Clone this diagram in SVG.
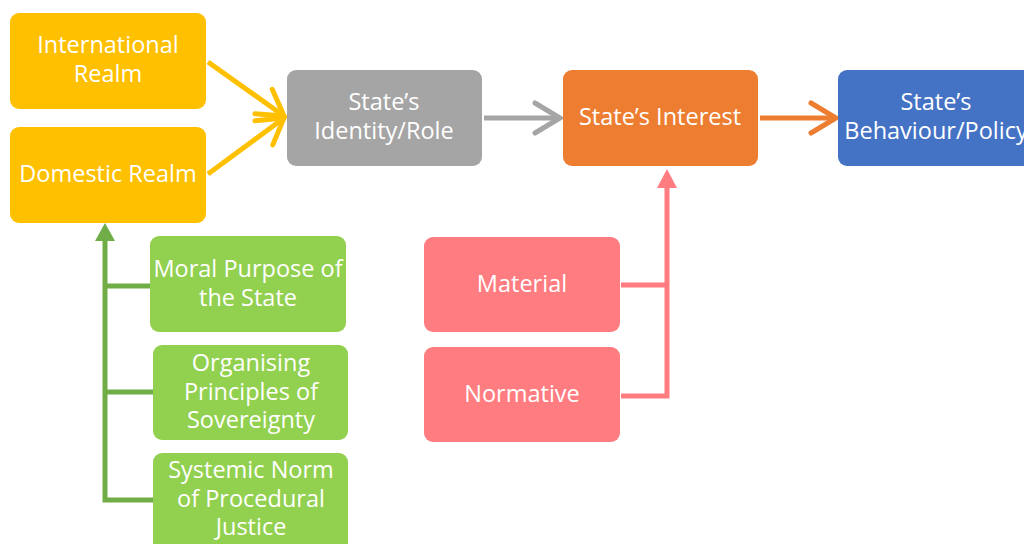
<svg xmlns="http://www.w3.org/2000/svg" width="1024" height="544" viewBox="0 0 1024 544">
  <defs>
    <style>
      .box { stroke: none; }
      .lbl { font-family: "Open Sans", Lato, sans-serif; font-size: 23.5px; fill: #ffffff; text-anchor: middle; }
      .yellow { fill: #FFC000; }
      .gray { fill: #A5A5A5; }
      .orange { fill: #ED7D31; }
      .blue { fill: #4472C4; }
      .green { fill: #92D050; }
      .pink { fill: #FF7C80; }
      .conn { fill: none; stroke-width: 5; stroke-linejoin: miter; }
    </style>
    <marker id="chevY" viewBox="0 0 12 12" refX="10" refY="6" markerWidth="7.5" markerHeight="7.5" markerUnits="strokeWidth" orient="auto">
      <path d="M2,1.2 L10,6 L2,10.8" fill="none" stroke="#FFC000" stroke-width="1.6" stroke-linecap="round"/>
    </marker>
    <marker id="chevG" viewBox="0 0 12 12" refX="10" refY="6" markerWidth="7.5" markerHeight="7.5" markerUnits="strokeWidth" orient="auto">
      <path d="M2,1.2 L10,6 L2,10.8" fill="none" stroke="#A5A5A5" stroke-width="1.6" stroke-linecap="round"/>
    </marker>
    <marker id="chevO" viewBox="0 0 12 12" refX="10" refY="6" markerWidth="7.5" markerHeight="7.5" markerUnits="strokeWidth" orient="auto">
      <path d="M2,1.2 L10,6 L2,10.8" fill="none" stroke="#ED7D31" stroke-width="1.6" stroke-linecap="round"/>
    </marker>
  </defs>
  <rect width="1024" height="544" fill="#ffffff"/>

  <!-- connectors -->
  <g id="connectors">
    <line class="conn" x1="208" y1="62" x2="284" y2="116" stroke="#FFC000" marker-end="url(#chevY)"/>
    <line class="conn" x1="208" y1="174" x2="284" y2="118" stroke="#FFC000" marker-end="url(#chevY)"/>
    <line class="conn" x1="484" y1="118" x2="560" y2="118" stroke="#A5A5A5" marker-end="url(#chevG)"/>
    <line class="conn" x1="760" y1="118" x2="836" y2="118" stroke="#ED7D31" marker-end="url(#chevO)"/>
    <!-- green bracket into Domestic Realm -->
    <path class="conn" d="M150,286 H105 M153,392 H105 M153,500 H105 V238" stroke="#70AD47"/>
    <polygon points="105,223 95,241 115,241" fill="#70AD47"/>
    <!-- pink bracket into State's Interest -->
    <path class="conn" d="M621,285 H667 M621,396 H667 V186" stroke="#FF7C80"/>
    <polygon points="667,169 657,188 677,188" fill="#FF7C80"/>
  </g>

  <g id="international">
    <rect class="box yellow" x="10" y="13" width="196" height="96" rx="9"/>
    <text class="lbl" x="108" y="53">International</text>
    <text class="lbl" x="108" y="82">Realm</text>
  </g>
  <g id="domestic">
    <rect class="box yellow" x="10" y="127" width="196" height="96" rx="9"/>
    <text class="lbl" x="108" y="182">Domestic Realm</text>
  </g>
  <g id="identity">
    <rect class="box gray" x="287" y="70" width="195" height="96" rx="9"/>
    <text class="lbl" x="384" y="110">State’s</text>
    <text class="lbl" x="384" y="139">Identity/Role</text>
  </g>
  <g id="interest">
    <rect class="box orange" x="563" y="70" width="195" height="96" rx="9"/>
    <text class="lbl" x="660" y="125">State’s Interest</text>
  </g>
  <g id="behaviour">
    <rect class="box blue" x="838" y="70" width="196" height="96" rx="9"/>
    <text class="lbl" x="936" y="110">State’s</text>
    <text class="lbl" x="936" y="139">Behaviour/Policy</text>
  </g>
  <g id="moral">
    <rect class="box green" x="150" y="236" width="196" height="96" rx="9"/>
    <text class="lbl" x="248" y="277">Moral Purpose of</text>
    <text class="lbl" x="248" y="306">the State</text>
  </g>
  <g id="organising">
    <rect class="box green" x="153" y="345" width="195" height="95" rx="9"/>
    <text class="lbl" x="251" y="371">Organising</text>
    <text class="lbl" x="251" y="400">Principles of</text>
    <text class="lbl" x="251" y="428">Sovereignty</text>
  </g>
  <g id="systemic">
    <rect class="box green" x="153" y="453" width="195" height="100" rx="9"/>
    <text class="lbl" x="251" y="478">Systemic Norm</text>
    <text class="lbl" x="251" y="507">of Procedural</text>
    <text class="lbl" x="251" y="535">Justice</text>
  </g>
  <g id="material">
    <rect class="box pink" x="424" y="237" width="196" height="95" rx="9"/>
    <text class="lbl" x="522" y="292">Material</text>
  </g>
  <g id="normative">
    <rect class="box pink" x="424" y="347" width="196" height="95" rx="9"/>
    <text class="lbl" x="522" y="402">Normative</text>
  </g>
</svg>
